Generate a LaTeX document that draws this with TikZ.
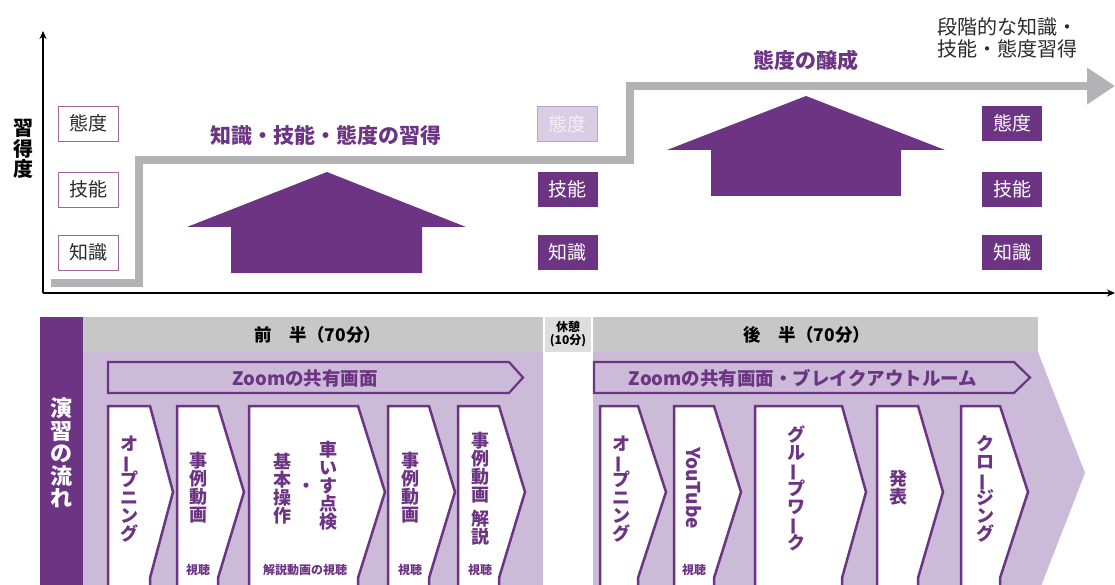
\documentclass[tikz,border=0pt]{standalone}
\usepackage{fontspec}
\usepackage{graphicx}
\setmainfont{Noto Sans CJK JP}
\usetikzlibrary{arrows.meta}
\definecolor{pur}{HTML}{6C3483}
\definecolor{lav}{HTML}{CBBAD8}
\definecolor{hdr}{HTML}{C7C7C7}
\definecolor{brkc}{HTML}{DEDEDE}
\definecolor{gline}{HTML}{B3B3B6}
\definecolor{boxb}{HTML}{A0689A}
\definecolor{dimf}{HTML}{D9CDE3}
\definecolor{dimb}{HTML}{B9A6CA}
\definecolor{dimt}{HTML}{F3EFF6}
\definecolor{txt}{HTML}{2B2B2B}
\newcommand\vbar{\rotatebox[origin=c]{90}{ー}}
\newcommand\mychev[3]{\filldraw[chev] (#1,406) -- (#2,406) -- (#3,492) -- (#2,578) -- (#2,600) -- (#1,600) -- cycle;}
\begin{document}
\lineskiplimit=-30pt \lineskip=0pt
\begin{tikzpicture}[x=1pt,y=-1pt,
  every node/.style={inner sep=0pt, outer sep=0pt},
  lvl/.style={draw=boxb, line width=0.9pt, fill=white, minimum width=60pt, minimum height=35pt, text=txt, font=\fontsize{19}{19}\selectfont},
  lvlon/.style={lvl, draw=none, fill=pur, text=white},
  lvldim/.style={lvl, draw=dimb, fill=dimf, text=dimt},
  ttl/.style={text=pur, font=\bfseries\fontsize{21}{21}\selectfont},
  hdrtxt/.style={text=black, font=\bfseries\fontsize{17.5}{17.5}\selectfont},
  vtxt/.style={align=center, text=pur, font=\bfseries\fontsize{18}{18}\selectfont},
  smalltxt/.style={text=pur, font=\bfseries\fontsize{12}{12}\selectfont},
  chev/.style={draw=pur, line width=2.5pt, fill=white, line join=miter},
  banner/.style={draw=pur, line width=2.2pt, fill=lav, line join=miter},
  axis/.style={draw=black, line width=1.2pt, -{Stealth[length=8pt,width=7pt]}},
  stepline/.style={draw=gline, line width=8pt, line join=miter, -{Triangle[length=28pt,width=35pt]}},
  bigarrow/.style={fill=pur}
]
\useasboundingbox (0,0) rectangle (1115,585);

% ---------- upper chart ----------
\coordinate (o) at (43,293);
\coordinate (ytop) at (43,31);
\coordinate (xend) at (1115,293);
\draw[axis] (o) -- (ytop);
\draw[axis] (o) -- (xend);

\node[font=\bfseries\fontsize{20}{20.5}\selectfont, align=center] (ylab) at (23,149) {習\\得\\度};

\coordinate (g0) at (51,282.5);
\coordinate (g1) at (139,282.5);
\coordinate (g2) at (139,160);
\coordinate (g3) at (630,160);
\coordinate (g4) at (630,86);
\coordinate (g5) at (1115,86);
\draw[stepline] (g0) -- (g1) -- (g2) -- (g3) -- (g4) -- (g5);

\node[lvl] (a1) at (88,123.5) {態度};
\node[lvl] (a2) at (88,189.5) {技能};
\node[lvl] (a3) at (88,252.5) {知識};
\node[lvldim] (b1) at (567.5,124) {態度};
\node[lvlon] (b2) at (567.5,189.5) {技能};
\node[lvlon] (b3) at (567.5,252.5) {知識};
\node[lvlon] (c1) at (1012,123.5) {態度};
\node[lvlon] (c2) at (1012,189.5) {技能};
\node[lvlon] (c3) at (1012,252.5) {知識};

\fill[bigarrow] (327,172) -- (466,227) -- (422,227) -- (422,273) -- (231,273) -- (231,227) -- (187,227) -- cycle;
\fill[bigarrow] (806,96) -- (945,150) -- (901,150) -- (901,196) -- (711,196) -- (711,150) -- (667,150) -- cycle;

\node[ttl] (t1) at (326,135) {知識・技能・態度の習得};
\node[ttl] (t2) at (806,61) {態度の醸成};
\node[anchor=west, align=left, text=txt, font=\fontsize{20}{22}\selectfont] (t3) at (937,38) {段階的な知識・\\技能・態度習得};

% ---------- lower flow ----------
\fill[pur] (40,317) rectangle (83,590);
\node[align=center, text=white, font=\bfseries\fontsize{22}{22.6}\selectfont] (flow) at (61,453) {演\\習\\の\\流\\れ};

\fill[hdr] (83,317) rectangle (543,352);
\fill[brkc] (545,317) rectangle (591,352);
\fill[hdr] (593,317) rectangle (1038,352);
\node[hdrtxt] (h1) at (318,335) {前　半（70分）};
\node[hdrtxt] (h2) at (807,335) {後　半（70分）};
\node[align=center, text=black, font=\bfseries\fontsize{12}{13.5}\selectfont] (brk) at (568,334) {休憩\\(10分)};

\fill[lav] (83,352) rectangle (543,590);
\fill[lav] (593,352) -- (1038,352) -- (1085,473) -- (1038,594) -- (593,594) -- cycle;

\filldraw[banner] (108,362) -- (509,362) -- (523,377.5) -- (509,393) -- (108,393) -- cycle;
\filldraw[banner] (594,362) -- (1014,362) -- (1030,377.5) -- (1014,393) -- (594,393) -- cycle;
\node[text=pur, font=\bfseries\fontsize{18.5}{18.5}\selectfont] (z1) at (305,378) {Zoomの共有画面};
\node[text=pur, font=\bfseries\fontsize{18.5}{18.5}\selectfont] (z2) at (803,378) {Zoomの共有画面・ブレイクアウトルーム};

\mychev{108}{150}{173}
\mychev{177}{218}{244}
\mychev{249}{358}{385}
\mychev{388}{429}{455}
\mychev{458}{499}{525}
\mychev{600}{638}{666}
\mychev{674}{714}{741}
\mychev{755}{842}{866}
\mychev{877}{918}{943}
\mychev{961}{1000}{1028}

\node[vtxt] (l1) at (129,489) {オ\\\vbar\\プ\\ニ\\ン\\グ};
\node[vtxt] (l2) at (198,488) {事\\例\\動\\画};
\node[smalltxt] (l2s) at (198,570) {視聴};
\node[vtxt] (l3a) at (328,486) {車\\い\\す\\点\\検};
\node[vtxt] (l3b) at (306,488) {・};
\node[vtxt] (l3c) at (282,489) {基\\本\\操\\作};
\node[smalltxt] (l3s) at (305,570) {解説動画の視聴};
\node[vtxt] (l4) at (410,488) {事\\例\\動\\画};
\node[smalltxt] (l4s) at (410,570) {視聴};
\node[vtxt] (l5) at (480,489) {事\\例\\動\\画\\[6pt]解\\説};
\node[smalltxt] (l5s) at (480,570) {視聴};

\node[vtxt] (r1) at (621,489) {オ\\\vbar\\プ\\ニ\\ン\\グ};
\node[text=pur, font=\bfseries\fontsize{19}{19}\selectfont, rotate=-90] (r2) at (694,488) {YouTube};
\node[smalltxt] (r2s) at (694,570) {視聴};
\node[vtxt] (r3) at (796,488) {グ\\ル\\\vbar\\プ\\ワ\\\vbar\\ク};
\node[vtxt] (r4) at (898,488) {発\\表};
\node[vtxt] (r5) at (985,489) {ク\\ロ\\\vbar\\ジ\\ン\\グ};
\end{tikzpicture}
\end{document}
